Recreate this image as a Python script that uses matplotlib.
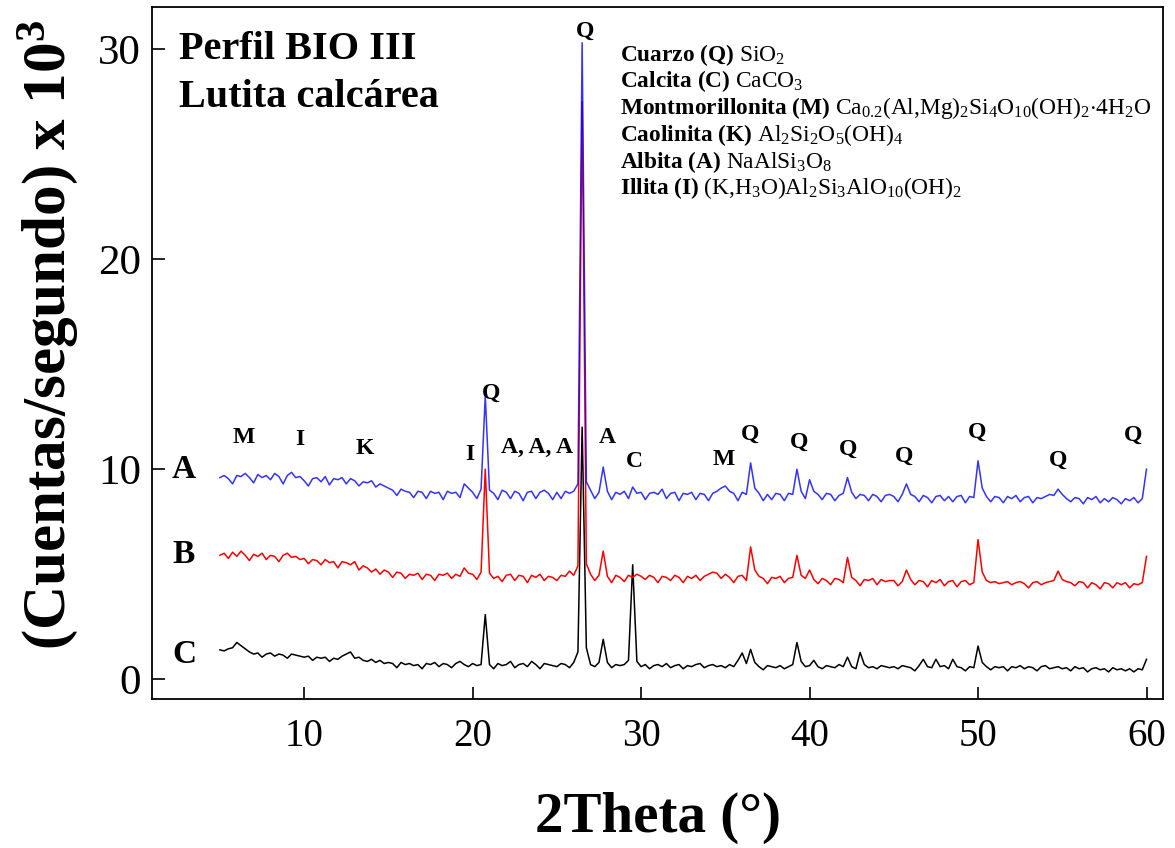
import numpy as np
import matplotlib
matplotlib.use("Agg")
import matplotlib.pyplot as plt

plt.rcParams['font.family'] = ['Liberation Serif', 'DejaVu Serif']
plt.rcParams['mathtext.fontset'] = 'custom'
plt.rcParams['mathtext.rm'] = 'Liberation Serif'
plt.rcParams['mathtext.bf'] = 'Liberation Serif:bold'
plt.rcParams['mathtext.it'] = 'Liberation Serif:italic'

# --- data (counts/s x 10^3), 2theta step 0.25 ---
two_theta = np.arange(5.0, 60.01, 0.25)

pattern_a = [
    9.6, 9.7, 9.55, 9.3, 9.7, 9.65, 9.8, 9.6, 9.35, 9.75, 9.6, 9.7, 9.5, 9.8, 9.65, 9.3, 9.7, 9.85, 9.6, 9.65,
    9.45, 9.2, 9.55, 9.6, 9.4, 9.65, 9.25, 9.55, 9.5, 9.6, 9.3, 9.55, 9.45, 9.2, 9.4, 9.35, 9.45, 9.15, 9.3, 9.2,
    9.1, 9.0, 8.75, 9.05, 8.95, 8.9, 8.65, 8.95, 8.9, 8.6, 8.95, 8.85, 8.9, 8.55, 8.95, 8.85, 8.9, 8.65, 9.3, 9.1,
    8.9, 8.6, 9.05, 13.5, 9.0, 8.85, 8.55, 9.0, 8.9, 8.6, 8.95, 8.85, 8.5, 8.9, 8.95, 8.6, 8.9, 9.0, 8.85, 8.55,
    8.9, 8.6, 8.95, 8.85, 8.95, 9.3, 30.3, 9.4, 9.0, 8.6, 8.9, 10.1, 8.95, 8.55, 8.9, 8.8, 8.95, 8.6, 9.15, 8.85,
    8.9, 8.55, 8.85, 8.9, 8.8, 9.05, 8.6, 8.85, 8.9, 8.5, 8.85, 8.8, 8.9, 8.55, 8.85, 8.8, 8.5, 8.85, 8.95, 9.1,
    9.2, 8.95, 8.85, 8.5, 8.9, 8.8, 10.3, 9.1, 8.85, 8.5, 8.8, 8.55, 8.85, 8.8, 8.5, 8.85, 8.8, 10.0, 8.95, 8.6,
    9.5, 8.95, 8.8, 8.55, 8.85, 8.8, 8.5, 8.75, 8.85, 9.6, 8.9, 8.6, 8.8, 8.75, 8.5, 8.8, 8.7, 8.45, 8.75, 8.8,
    8.7, 8.45, 8.8, 9.3, 8.8, 8.7, 8.45, 8.75, 8.65, 8.4, 8.7, 8.75, 8.5, 8.7, 8.45, 8.7, 8.75, 8.4, 8.7, 8.65,
    10.4, 9.1, 8.7, 8.45, 8.7, 8.65, 8.4, 8.7, 8.6, 8.75, 8.45, 8.65, 8.7, 8.4, 8.65, 8.6, 8.7, 8.8, 8.75, 9.05,
    8.8, 8.6, 8.45, 8.65, 8.6, 8.35, 8.65, 8.55, 8.7, 8.4, 8.6, 8.45, 8.65, 8.55, 8.35, 8.6, 8.5, 8.65, 8.4, 8.6,
    10.0]

pattern_b = [
    5.9, 6.0, 5.75, 6.05, 5.85, 6.1, 5.9, 5.65, 5.95, 5.85, 6.0, 5.7, 5.9, 5.85, 5.6, 5.9, 6.0, 5.8, 5.85, 5.7,
    5.75, 5.5, 5.7, 5.65, 5.45, 5.7, 5.55, 5.6, 5.3, 5.6, 5.55, 5.45, 5.6, 5.2, 5.4, 5.3, 5.1, 5.25, 5.0, 5.2,
    5.1, 4.85, 5.1, 5.05, 4.8, 5.0, 4.95, 5.05, 4.75, 5.0, 4.95, 4.7, 5.0, 4.95, 5.05, 4.8, 5.0, 4.9, 5.3, 5.05,
    5.0, 4.75, 5.1, 10.0, 5.05, 4.8, 4.9, 4.65, 4.95, 5.0, 4.7, 4.95, 4.9, 4.6, 4.95, 4.85, 5.0, 4.7, 4.9, 4.85,
    4.7, 4.95, 4.9, 5.15, 4.95, 5.4, 27.5, 5.5, 5.0, 4.7, 4.95, 6.1, 4.9, 4.6, 4.95, 4.85, 4.65, 4.95, 4.85, 5.0,
    4.9, 4.75, 4.95, 4.85, 4.6, 4.9, 4.85, 4.7, 4.95, 4.85, 4.6, 4.9, 4.8, 4.95, 4.7, 4.9, 5.0, 5.1, 5.05, 4.8,
    5.0, 4.85, 4.6, 4.9, 4.95, 4.7, 6.3, 5.2, 4.9, 4.8, 4.55, 4.85, 4.8, 4.9, 4.6, 4.8, 4.85, 5.9, 4.95, 4.8,
    5.2, 4.75, 4.55, 4.8, 4.7, 4.5, 4.8, 4.75, 4.6, 5.8, 4.85, 4.7, 4.45, 4.75, 4.7, 4.8, 4.5, 4.75, 4.65, 4.7,
    4.7, 4.45, 4.65, 5.2, 4.75, 4.5, 4.7, 4.65, 4.4, 4.7, 4.6, 4.75, 4.45, 4.65, 4.7, 4.4, 4.65, 4.7, 4.5, 4.6,
    6.65, 5.1, 4.7, 4.6, 4.65, 4.55, 4.6, 4.65, 4.5, 4.6, 4.65, 4.55, 4.35, 4.6, 4.65, 4.5, 4.6, 4.65, 4.7, 5.15,
    4.75, 4.65, 4.6, 4.45, 4.65, 4.6, 4.35, 4.6, 4.5, 4.3, 4.6, 4.55, 4.35, 4.6, 4.5, 4.6, 4.35, 4.55, 4.5, 4.6,
    5.85]

pattern_c = [
    1.4, 1.35, 1.45, 1.5, 1.75, 1.6, 1.45, 1.3, 1.2, 1.25, 1.05, 1.2, 1.25, 1.1, 1.2, 1.15, 1.0, 1.2, 1.15, 1.1,
    1.05, 1.1, 0.9, 1.05, 1.0, 1.05, 0.85, 1.0, 0.95, 1.1, 1.2, 1.3, 1.0, 1.05, 0.9, 0.85, 0.95, 0.8, 0.9, 0.75,
    0.8, 0.75, 0.55, 0.8, 0.7, 0.75, 0.65, 0.7, 0.5, 0.75, 0.7, 0.8, 0.6, 0.75, 0.7, 0.55, 0.75, 0.85, 0.7, 0.6,
    0.75, 0.65, 0.7, 3.08, 0.7, 0.5, 0.75, 0.65, 0.7, 0.85, 0.55, 0.7, 0.75, 0.6, 0.85, 0.7, 0.5, 0.75, 0.7, 0.65,
    0.6, 0.75, 0.7, 0.55, 0.8, 1.3, 12.0, 1.5, 0.7, 0.6, 0.8, 1.9, 0.8, 0.55, 0.7, 0.65, 0.7, 0.9, 5.45, 0.85,
    0.6, 0.7, 0.5, 0.65, 0.7, 0.6, 0.75, 0.55, 0.65, 0.7, 0.5, 0.65, 0.6, 0.7, 0.75, 0.55, 0.65, 0.7, 0.6, 0.65,
    0.55, 0.7, 0.6, 0.9, 1.25, 0.75, 1.42, 0.8, 0.6, 0.45, 0.65, 0.6, 0.55, 0.65, 0.5, 0.6, 0.7, 1.75, 0.85, 0.6,
    0.65, 0.9, 0.6, 0.5, 0.65, 0.6, 0.55, 0.7, 0.6, 1.05, 0.6, 0.5, 1.28, 0.7, 0.55, 0.6, 0.5, 0.65, 0.6, 0.55,
    0.6, 0.5, 0.65, 0.6, 0.55, 0.4, 0.65, 0.95, 0.6, 0.55, 0.95, 0.6, 0.65, 0.5, 0.95, 0.6, 0.55, 0.4, 0.6, 0.55,
    1.58, 0.8, 0.6, 0.45, 0.6, 0.55, 0.6, 0.4, 0.6, 0.55, 0.65, 0.5, 0.6, 0.55, 0.4, 0.6, 0.65, 0.5, 0.55, 0.6,
    0.5, 0.55, 0.4, 0.6, 0.5, 0.55, 0.35, 0.5, 0.55, 0.45, 0.5, 0.35, 0.55, 0.45, 0.5, 0.4, 0.5, 0.35, 0.5, 0.45,
    0.95]

# phase labels: (text, 2theta, height)
phase_text = ['M', 'I', 'K', 'I', 'A, A, A', 'A', 'C', 'M', 'Q', 'Q',
              'Q', 'Q', 'Q', 'Q', 'Q', 'Q', 'Q']
phase_x = [6.44, 9.72, 13.57, 19.86, 23.85, 28.0, 29.6, 34.9, 36.45, 39.4,
           42.27, 45.6, 49.93, 54.75, 59.2, 21.1, 26.7]
phase_y = [11.5, 11.4, 11.0, 10.7, 11.05, 11.5, 10.35, 10.45, 11.65, 11.3,
           10.95, 10.6, 11.75, 10.4, 11.6, 13.6, 30.85]

minerals = [r'$\mathbf{Cuarzo\ (Q)}\ \mathrm{SiO_2}$',
            r'$\mathbf{Calcita\ (C)}\ \mathrm{CaCO_3}$',
            r'$\mathbf{Montmorillonita\ (M)}\ \mathrm{Ca_{0.2}(Al{,}Mg)_2Si_4O_{10}(OH)_2{\cdot}4H_2O}$',
            r'$\mathbf{Caolinita\ (K)}\ \mathrm{Al_2Si_2O_5(OH)_4}$',
            r'$\mathbf{Albita\ (A)}\ \mathrm{NaAlSi_3O_8}$',
            r'$\mathbf{Illita\ (I)}\ \mathrm{(K{,}H_3O)Al_2Si_3AlO_{10}(OH)_2}$']
mineral_y = [29.73, 28.49, 27.2, 25.92, 24.63, 23.39]

trace_names = ['A', 'B', 'C']
trace_label_y = [9.97, 5.93, 1.19]

fig = plt.figure(figsize=(11.75, 8.48), dpi=100)
ax = fig.add_axes([0.1294, 0.1757, 0.8604, 0.8160])

ax.plot(two_theta, pattern_c, color='black', lw=1.1)
ax.plot(two_theta, pattern_b, color='#ff0000', lw=1.1)
ax.plot(two_theta, pattern_a, color='#0000ff', lw=1.1, alpha=0.8)

for name, yy in zip(trace_names, trace_label_y):
    ax.text(2.87, yy, name, fontsize=24, fontweight='bold', ha='center', va='center')

for t, x, y in zip(phase_text, phase_x, phase_y):
    ax.text(x, y, t, fontsize=17, fontweight='bold', ha='center', va='center')

for s, y in zip(minerals, mineral_y):
    ax.text(28.72, y, s, fontsize=16.8, ha='left', va='center')

ax.text(2.57, 29.97, 'Perfil BIO III', fontsize=29, fontweight='bold', va='center')
ax.text(2.57, 27.68, 'Lutita calcárea', fontsize=29, fontweight='bold', va='center')

ax.set_xlim(0.97, 60.98)
ax.set_ylim(-0.94, 32.0)
ax.set_xticks([10, 20, 30, 40, 50, 60])
ax.set_yticks([0, 10, 20, 30])
ax.tick_params(axis='both', direction='in', length=9, width=1.2)
ax.tick_params(axis='x', labelsize=28, pad=14)
ax.tick_params(axis='y', labelsize=31, pad=8)
for sp in ax.spines.values():
    sp.set_linewidth(1.3)

fig.text(0.041, 0.605, r'(Cuentas/segundo) x 10$^{\mathbf{3}}$', fontsize=44,
         fontweight='bold', rotation=90, ha='center', va='center')
fig.text(0.56, 0.035, '2Theta (°)', fontsize=41, fontweight='bold',
         ha='center', va='center')

fig.savefig('out.png', dpi=100)
